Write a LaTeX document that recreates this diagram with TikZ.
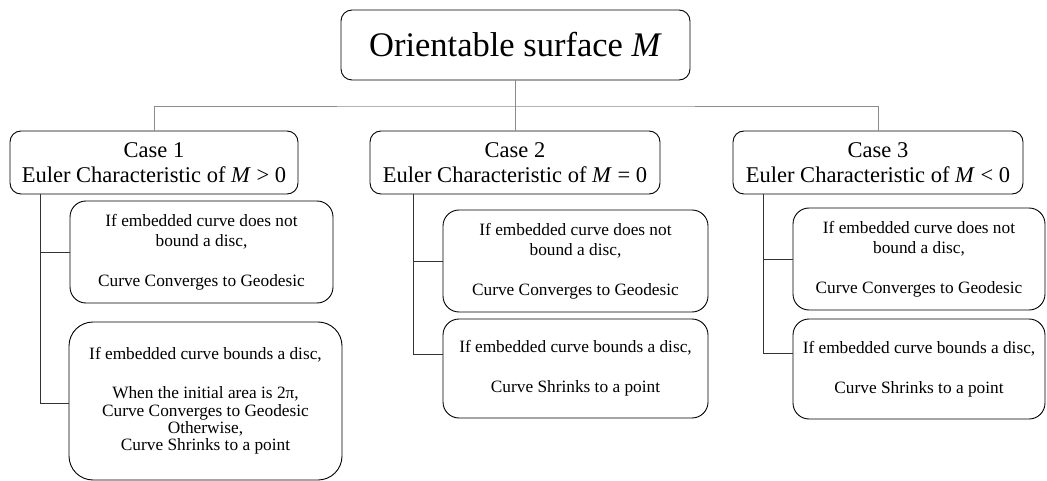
\documentclass[tikz,border=0pt]{standalone}
\usepackage{fontspec}
\setmainfont{Liberation Serif}
\begin{document}
\begin{tikzpicture}[x=1pt,y=-1pt,
  box/.style={draw=black, line width=0.9pt, rounded corners=11pt, inner sep=0pt, align=center},
  leaf/.style={box, rounded corners=16pt, font=\fontsize{17.3}{20}\selectfont},
  casebox/.style={box, minimum width=290pt, minimum height=63pt, font=\fontsize{22.5}{25}\selectfont},
  topline/.style={draw=black!45, line width=0.8pt},
  childline/.style={draw=black!80, line width=0.9pt}]
\useasboundingbox (0,0) rectangle (1047,481);

% top
\node[box, minimum width=349pt, minimum height=70pt, font=\fontsize{34.5}{40}\selectfont] (top) at (515.5,45) {Orientable surface \textit{M}};

% cases
\node[casebox, minimum width=288pt] (c1) at (154,162.5) {Case 1\\Euler Characteristic of \textit{M} > 0};
\node[casebox] (c2) at (515,162.5) {Case 2\\Euler Characteristic of \textit{M} = 0};
\node[casebox] (c3) at (878,162.5) {Case 3\\Euler Characteristic of \textit{M} < 0};

% leaves case 1
\node[leaf, minimum width=263pt, minimum height=102pt] (c1a) at (201.5,252)
  {If embedded curve does not\\bound a disc,\\[20pt]Curve Converges to Geodesic};
\node[leaf, rounded corners=24pt, minimum width=273pt, minimum height=158pt, font=\fontsize{17.3}{17.3}\selectfont] (c1b) at (205.5,401)
  {If embedded curve bounds a disc,\\[22pt]When the initial area is 2π,\\Curve Converges to Geodesic\\Otherwise,\\Curve Shrinks to a point};

% leaves case 2
\node[leaf, minimum width=265pt, minimum height=102pt] (c2a) at (575.5,261)
  {If embedded curve does not\\bound a disc,\\[20pt]Curve Converges to Geodesic};
\node[leaf, minimum width=265pt, minimum height=99pt] (c2b) at (575.5,368.5)
  {If embedded curve bounds a disc,\\[20pt]Curve Shrinks to a point};

% leaves case 3
\node[leaf, minimum width=252pt, minimum height=102pt] (c3a) at (919,259)
  {If embedded curve does not\\bound a disc,\\[20pt]Curve Converges to Geodesic};
\node[leaf, minimum width=252pt, minimum height=100pt] (c3b) at (919,369)
  {If embedded curve bounds a disc,\\[20pt]Curve Shrinks to a point};

% top connectors
\coordinate (hub) at (515.5,106);
\draw[topline] (top.south) -- (hub);
\draw[topline] (c1.north) |- (hub) -| (c3.north);
\draw[topline] (c2.north) -- (c2.north |- hub);

% child connectors
\coordinate (x1) at (40,0);
\coordinate (x2) at (413,0);
\coordinate (x3) at (763,0);
\coordinate (y2b) at (0,354);
\coordinate (y3b) at (0,353);
\coordinate (y1b) at (0,403);
\draw[childline] (c1.south -| x1) |- (c1a.west);
\draw[childline] (c1.south -| x1) |- (c1b.west |- y1b);
\draw[childline] (c2.south -| x2) |- (c2a.west);
\draw[childline] (c2.south -| x2) |- (c2b.west |- y2b);
\draw[childline] (c3.south -| x3) |- (c3a.west);
\draw[childline] (c3.south -| x3) |- (c3b.west |- y3b);
\end{tikzpicture}
\end{document}
